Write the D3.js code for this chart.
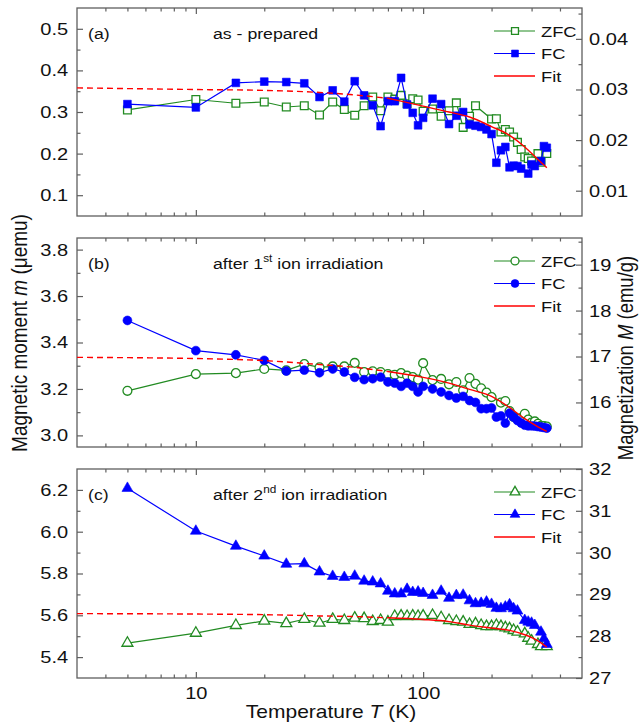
<!DOCTYPE html>
<html>
<head>
<meta charset="utf-8">
<script src="https://cdn.jsdelivr.net/npm/d3@7"></script>
<style>
	body { margin: 0; background: #fff; }
	svg { display: block; font-family: 'Liberation Sans', Arial, sans-serif; }
</style>
</head>
<body>
<div id="chart"></div>
<script>
// temperatures (K) shared by the ZFC / FC curves
const temps = [5, 10, 15, 20, 25, 30, 35, 40, 45, 50, 55, 60, 65, 70, 75, 80, 85, 90, 95, 100,
	110, 120, 130, 140, 150, 160, 170, 180, 190, 200, 210, 220, 230, 240, 250, 260, 270, 280, 290, 300, 310, 320, 330, 340, 350]

// (a) as-prepared, moment in uemu
const zfcA = [0.305, 0.330, 0.321, 0.324, 0.312, 0.315, 0.293, 0.324, 0.306, 0.292, 0.315, 0.336, 0.303, 0.336, 0.331, 0.340, 0.320, 0.332, 0.329, 0.302,
	0.307, 0.290, 0.303, 0.322, 0.263, 0.290, 0.315, null, null, 0.283, 0.284, 0.252, 0.258, 0.252, 0.240, 0.227, 0.210, 0.192, 0.188, 0.182, null, 0.200, 0.179, null, 0.200]
const fcA = [0.319, 0.311, 0.370, 0.373, 0.372, 0.369, 0.336, 0.352, 0.325, 0.374, 0.340, 0.316, 0.266, 0.326, 0.326, 0.382, 0.318, 0.298, 0.268, 0.286,
	0.332, 0.319, 0.271, 0.291, 0.300, 0.270, 0.267, 0.264, 0.258, 0.247, 0.178, 0.208, 0.216, 0.167, 0.171, 0.170, 0.164, null, 0.152, 0.174, 0.170, null, 0.182, 0.218, 0.214]

// (b) after 1st irradiation
const zfcB = [3.192, 3.264, 3.268, 3.286, 3.280, 3.307, 3.293, 3.297, 3.297, 3.312, 3.273, 3.276, 3.273, 3.264, 3.261, 3.268, 3.257, 3.251, 3.240, 3.311,
	3.238, 3.243, 3.220, 3.230, 3.194, 3.247, 3.222, 3.203, 3.184, 3.165, null, 3.141, 3.148, 3.105, 3.080, 3.070, 3.075, 3.093, 3.068, 3.055, 3.060, 3.050, 3.041, 3.040, 3.038]
const fcB = [3.495, 3.365, 3.347, 3.323, 3.277, 3.281, 3.270, 3.286, 3.273, 3.250, 3.240, 3.244, 3.251, 3.230, 3.225, 3.211, 3.225, 3.211, 3.187, 3.211,
	3.200, 3.187, 3.172, 3.161, 3.168, 3.150, 3.142, 3.115, 3.115, 3.118, 3.079, 3.084, 3.053, 3.096, 3.079, 3.064, 3.053, 3.044, 3.041, 3.041, 3.040, 3.038, 3.036, 3.034, 3.031]

// (c) after 2nd irradiation
const zfcC = [5.467, 5.515, 5.552, 5.573, 5.561, 5.581, 5.563, 5.581, 5.576, 5.587, 5.585, 5.571, 5.576, 5.568, 5.595, 5.597, 5.595, 5.597, 5.595, 5.597,
	5.600, 5.589, 5.576, 5.571, 5.568, 5.557, 5.560, 5.552, 5.547, 5.547, 5.552, 5.547, 5.541, 5.536, 5.528, 5.520, null, 5.512, 5.491, 5.477, null, 5.461, 5.451, null, 5.451]
const fcC = [6.208, 6.003, 5.931, 5.884, 5.845, 5.847, 5.808, 5.787, 5.782, 5.788, 5.764, 5.760, 5.751, 5.716, 5.703, 5.703, 5.725, 5.710, 5.712, 5.705,
	5.696, 5.716, 5.682, 5.695, 5.697, 5.670, 5.656, 5.658, 5.664, 5.653, 5.634, 5.632, 5.640, 5.651, 5.632, 5.621, null, 5.576, 5.568, 5.563, 5.552, null, 5.520, 5.488, 5.461]

// fit curves
const fitTemps = [3, 10, 20, 35, 50, 70, 100, 130, 160, 200, 240, 280, 320, 350]
const fitA = [0.358, 0.354, 0.352, 0.347, 0.341, 0.333, 0.314, 0.300, 0.288, 0.265, 0.244, 0.216, 0.186, 0.166]
const fitB = [3.336, 3.331, 3.322, 3.305, 3.293, 3.275, 3.250, 3.225, 3.198, 3.168, 3.120, 3.072, 3.037, 3.017]
const fitC = [5.608, 5.606, 5.603, 5.597, 5.594, 5.588, 5.580, 5.570, 5.553, 5.539, 5.528, 5.507, 5.478, 5.448]
const fitStart = 70

// ticks
const xTicks = [10, 100]
const xMinor = [4, 5, 6, 7, 8, 9, 20, 30, 40, 50, 60, 70, 80, 90, 200, 300, 400]
const leftTicksA = [0.1, 0.2, 0.3, 0.4, 0.5]
const leftMinorA = [0.15, 0.25, 0.35, 0.45]
const rightTicksA = [0.01, 0.02, 0.03, 0.04]
const rightMinorA = [0.015, 0.025, 0.035, 0.045]
const leftTicksB = [3.0, 3.2, 3.4, 3.6, 3.8]
const leftMinorB = [3.1, 3.3, 3.5, 3.7]
const rightTicksB = [16, 17, 18, 19]
const rightMinorB = [15.5, 16.5, 17.5, 18.5, 19.5]
const leftTicksC = [5.4, 5.6, 5.8, 6.0, 6.2]
const leftMinorC = [5.5, 5.7, 5.9, 6.1]
const rightTicksC = [27, 28, 29, 30, 31, 32]
const rightMinorC = [27.5, 28.5, 29.5, 30.5, 31.5]

const legendNames = ['ZFC', 'FC', 'Fit']

const green = '#228b22'
const blue = '#0000ff'
const red = '#ff0000'
const frame = '#5f5f5f'
const stretch = 'scale(1.18,1)'

const svg = d3.select('#chart').append('svg')
	.attr('width', 639)
	.attr('height', 727)

const x = d3.scaleLog().domain([3, 500]).range([77, 582])

const panels = [
	{ top: 8, bottom: 216, left: [0.05, 0.55], right: [0.005, 0.0461], lt: leftTicksA, lm: leftMinorA, rt: rightTicksA, rm: rightMinorA,
		lf: '.1f', rf: '.2f', zfc: zfcA, fc: fcA, fit: fitA, symbol: d3.symbolSquare, size: 60, label: '(a)', title: ['as - prepared'] },
	{ top: 238, bottom: 447, left: [2.95, 3.85], right: [15.03, 19.58], lt: leftTicksB, lm: leftMinorB, rt: rightTicksB, rm: rightMinorB,
		lf: '.1f', rf: 'd', zfc: zfcB, fc: fcB, fit: fitB, symbol: d3.symbolCircle, size: 62, label: '(b)', title: ['after 1', 'st', ' ion irradiation'] },
	{ top: 469, bottom: 678, left: [5.3, 6.3], right: [27, 32], lt: leftTicksC, lm: leftMinorC, rt: rightTicksC, rm: rightMinorC,
		lf: '.1f', rf: 'd', zfc: zfcC, fc: fcC, fit: fitC, symbol: d3.symbolTriangle, size: 52, label: '(c)', title: ['after 2', 'nd', ' ion irradiation'] }
]

function styleAxis(sel, labelSize) {
	sel.select('.domain').remove()
	sel.selectAll('line').attr('stroke', frame).attr('stroke-width', 1.2)
	sel.selectAll('text')
		.attr('font-size', labelSize)
		.attr('font-family', "'Liberation Sans', Arial, sans-serif")
		.attr('fill', '#111')
		.attr('transform', stretch)
}

function drawPanel(p, last) {
	const y = d3.scaleLinear().domain(p.left).range([p.bottom, p.top])
	const y2 = d3.scaleLinear().domain(p.right).range([p.bottom, p.top])
	const g = svg.append('g')

	// x ticks, top and bottom, all pointing inside
	g.append('g').attr('transform', `translate(0,${p.bottom})`)
		.call(d3.axisBottom(x).tickValues(xTicks).tickSize(-6).tickPadding(8.5).tickFormat(last ? d3.format('d') : ''))
		.call(s => styleAxis(s, 17))
	g.append('g').attr('transform', `translate(0,${p.bottom})`)
		.call(d3.axisBottom(x).tickValues(xMinor).tickSize(-3.5).tickFormat(''))
		.call(s => styleAxis(s, 17))
	g.append('g').attr('transform', `translate(0,${p.top})`)
		.call(d3.axisTop(x).tickValues(xTicks).tickSize(-6).tickFormat(''))
		.call(s => styleAxis(s, 17))
	g.append('g').attr('transform', `translate(0,${p.top})`)
		.call(d3.axisTop(x).tickValues(xMinor).tickSize(-3.5).tickFormat(''))
		.call(s => styleAxis(s, 17))

	// y ticks
	g.append('g').attr('transform', `translate(${x.range()[0]},0)`)
		.call(d3.axisLeft(y).tickValues(p.lt).tickSize(-6).tickPadding(7.5).tickFormat(d3.format(p.lf)))
		.call(s => styleAxis(s, 17))
	g.append('g').attr('transform', `translate(${x.range()[0]},0)`)
		.call(d3.axisLeft(y).tickValues(p.lm).tickSize(-3.5).tickFormat(''))
		.call(s => styleAxis(s, 17))
	g.append('g').attr('transform', `translate(${x.range()[1]},0)`)
		.call(d3.axisRight(y2).tickValues(p.rt).tickSize(-6).tickPadding(6).tickFormat(d3.format(p.rf)))
		.call(s => styleAxis(s, 17))
	g.append('g').attr('transform', `translate(${x.range()[1]},0)`)
		.call(d3.axisRight(y2).tickValues(p.rm).tickSize(-3.5).tickFormat(''))
		.call(s => styleAxis(s, 17))

	g.append('rect')
		.attr('x', x.range()[0])
		.attr('y', p.top)
		.attr('width', x.range()[1] - x.range()[0])
		.attr('height', p.bottom - p.top)
		.attr('fill', 'none')
		.attr('stroke', frame)
		.attr('stroke-width', 1.3)

	const line = d3.line().x(d => x(d.t)).y(d => y(d.v))
	const sym = d3.symbol().type(p.symbol).size(p.size)

	const series = [
		{ values: p.zfc, color: green, open: true },
		{ values: p.fc, color: blue, open: false }
	]
	series.forEach(s => {
		const pts = temps.map((t, i) => ({ t: t, v: s.values[i] })).filter(d => d.v != null)
		g.append('path')
			.datum(pts)
			.attr('d', line)
			.attr('fill', 'none')
			.attr('stroke', s.color)
			.attr('stroke-width', 1.2)
		g.append('g').selectAll('path')
			.data(pts)
			.enter()
			.append('path')
			.attr('d', sym)
			.attr('transform', d => `translate(${x(d.t)},${y(d.v)})`)
			.attr('fill', s.open ? '#fff' : s.color)
			.attr('stroke', s.color)
			.attr('stroke-width', s.open ? 1.3 : 0.6)
	})

	// fit: dashed extrapolation below fitStart, solid above
	const fitPts = fitTemps.map((t, i) => ({ t: t, v: p.fit[i] }))
	const fitLine = d3.line().x(d => x(d.t)).y(d => y(d.v)).curve(d3.curveMonotoneX)
	g.append('path')
		.datum(fitPts.filter(d => d.t <= fitStart))
		.attr('d', fitLine)
		.attr('fill', 'none')
		.attr('stroke', red)
		.attr('stroke-width', 1.4)
		.attr('stroke-dasharray', '6,4')
	g.append('path')
		.datum(fitPts.filter(d => d.t >= fitStart))
		.attr('d', fitLine)
		.attr('fill', 'none')
		.attr('stroke', red)
		.attr('stroke-width', 1.4)

	// legend
	const rows = [p.top + 23, p.top + 45.5, p.top + 68]
	legendNames.forEach((name, i) => {
		const color = [green, blue, red][i]
		g.append('line')
			.attr('x1', 494).attr('x2', 535)
			.attr('y1', rows[i]).attr('y2', rows[i])
			.attr('stroke', color)
			.attr('stroke-width', i === 2 ? 1.4 : 1.2)
		if (i < 2) {
			g.append('path')
				.attr('d', d3.symbol().type(p.symbol).size(p.size * 0.8))
				.attr('transform', `translate(515,${rows[i]})`)
				.attr('fill', i === 0 ? '#fff' : color)
				.attr('stroke', color)
				.attr('stroke-width', i === 0 ? 1.3 : 0.6)
		}
		g.append('text')
			.attr('transform', `translate(541,${rows[i] + 5.5}) ${stretch}`)
			.attr('font-size', 15.5)
			.attr('fill', '#111')
			.text(name)
	})

	// panel label and title
	g.append('text')
		.attr('transform', `translate(88,${p.top + 31}) ${stretch}`)
		.attr('font-size', 15)
		.attr('fill', '#111')
		.text(p.label)
	const title = g.append('text')
		.attr('transform', `translate(213,${p.top + 31}) ${stretch}`)
		.attr('font-size', 15)
		.attr('fill', '#111')
	title.append('tspan').text(p.title[0])
	if (p.title.length > 1) {
		title.append('tspan').attr('font-size', 10).attr('dy', -7).text(p.title[1])
		title.append('tspan').attr('dy', 7).text(p.title[2])
	}
}

panels.forEach((p, i) => drawPanel(p, i === panels.length - 1))

// axis titles
const xTitle = svg.append('text')
	.attr('transform', `translate(331,718) ${stretch}`)
	.attr('text-anchor', 'middle')
	.attr('font-size', 17.8)
	.attr('fill', '#111')
xTitle.append('tspan').text('Temperature ')
xTitle.append('tspan').attr('font-style', 'italic').text('T')
xTitle.append('tspan').text(' (K)')

const yTitle = svg.append('text')
	.attr('transform', 'translate(27,333) rotate(-90) scale(1,1.18)')
	.attr('text-anchor', 'middle')
	.attr('font-size', 19)
	.attr('fill', '#111')
yTitle.append('tspan').text('Magnetic moment ')
yTitle.append('tspan').attr('font-style', 'italic').text('m')
yTitle.append('tspan').text(' (\u03bcemu)')

const y2Title = svg.append('text')
	.attr('transform', 'translate(633,358) rotate(-90) scale(1,1.18)')
	.attr('text-anchor', 'middle')
	.attr('font-size', 18.5)
	.attr('fill', '#111')
y2Title.append('tspan').text('Magnetization ')
y2Title.append('tspan').attr('font-style', 'italic').text('M')
y2Title.append('tspan').text(' (emu/g)')
</script>
</body>
</html>
